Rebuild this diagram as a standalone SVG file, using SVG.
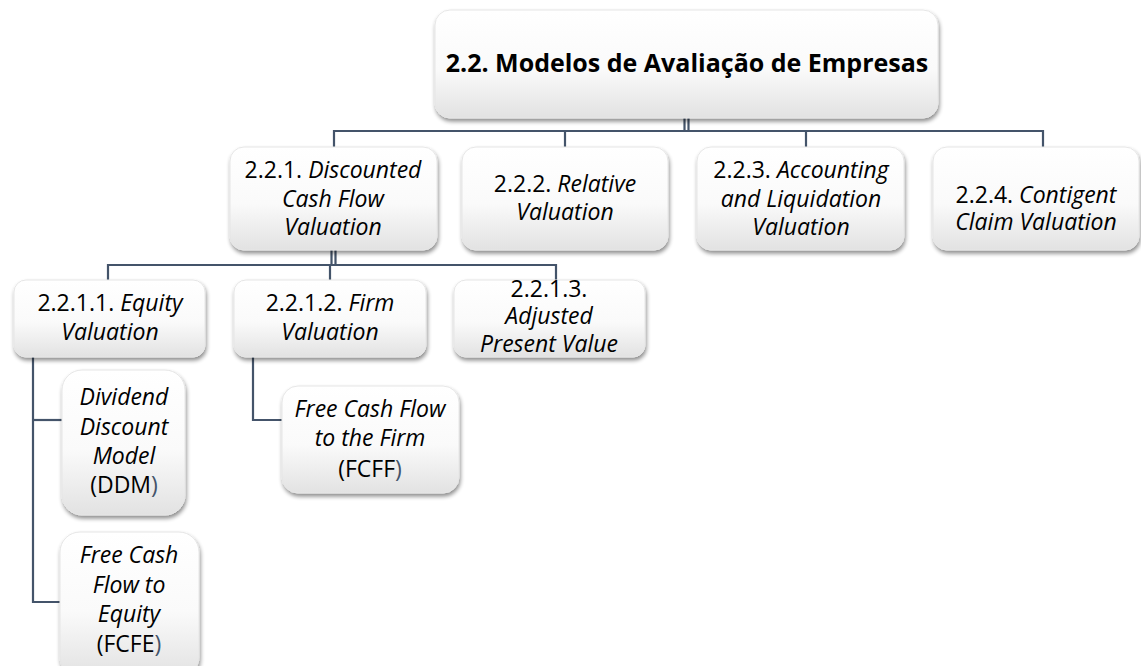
<svg xmlns="http://www.w3.org/2000/svg" width="1141" height="666" viewBox="0 0 1141 666">
  <defs>
    <linearGradient id="boxFill" x1="0" y1="0" x2="0" y2="1">
      <stop offset="0" stop-color="#ffffff"/>
      <stop offset="0.55" stop-color="#fafafa"/>
      <stop offset="1" stop-color="#e2e2e2"/>
    </linearGradient>
    <filter id="shadow" x="-10%" y="-10%" width="125%" height="130%">
      <feGaussianBlur in="SourceAlpha" stdDeviation="2.2"/>
      <feOffset dx="1" dy="3" result="off"/>
      <feComponentTransfer><feFuncA type="linear" slope="0.45"/></feComponentTransfer>
      <feMerge><feMergeNode/><feMergeNode in="SourceGraphic"/></feMerge>
    </filter>
  </defs>
  <style>
    .box { fill: url(#boxFill); stroke: #e6e6e6; stroke-width: 1; filter: url(#shadow); }
    .link { fill: none; stroke: #44546a; stroke-width: 2.2; }
    text { font-family: "Open Sans", "Liberation Sans", sans-serif; font-size: 23px; fill: #000; text-anchor: middle; }
    .title { font-weight: bold; font-size: 25px; }
    .it { font-style: italic; }
    .paren { fill: #44546a; }
  </style>
  <rect width="1141" height="666" fill="#ffffff"/>

  <g id="connectors">
    <!-- root to level 2 -->
    <line class="link" x1="684.5" y1="118" x2="684.5" y2="131" />
    <line class="link" x1="688.5" y1="118" x2="688.5" y2="131" />
    <polyline class="link" points="334,147 334,131 1043,131 1043,147"/>
    <line class="link" x1="565" y1="131" x2="565" y2="147"/>
    <line class="link" x1="806" y1="131" x2="806" y2="147"/>
    <!-- discounted cash flow to level 3 -->
    <line class="link" x1="331.5" y1="250" x2="331.5" y2="265"/>
    <line class="link" x1="335.5" y1="250" x2="335.5" y2="265"/>
    <polyline class="link" points="108,280 108,265 556,265 556,280"/>
    <line class="link" x1="330" y1="265" x2="330" y2="280"/>
    <!-- equity valuation children -->
    <polyline class="link" points="33,357 33,602 60,602"/>
    <line class="link" x1="33" y1="420" x2="62" y2="420"/>
    <!-- firm valuation child -->
    <polyline class="link" points="253,357 253,420 282,420"/>
  </g>

  <g id="root">
    <rect class="box" x="435" y="10" width="503" height="108" rx="15"/>
    <text class="title" x="687" y="72">2.2. Modelos de Avaliação de Empresas</text>
  </g>

  <g id="dcf">
    <rect class="box" x="230" y="147" width="207" height="103" rx="14"/>
    <text x="333" y="178">2.2.1.  <tspan class="it">Discounted</tspan></text>
    <text class="it" x="333" y="207">Cash Flow</text>
    <text class="it" x="333" y="235">Valuation</text>
  </g>

  <g id="relative">
    <rect class="box" x="462" y="147" width="206" height="103" rx="14"/>
    <text x="565" y="192">2.2.2. <tspan class="it">Relative</tspan></text>
    <text class="it" x="565" y="220">Valuation</text>
  </g>

  <g id="accounting">
    <rect class="box" x="697" y="147" width="207" height="103" rx="14"/>
    <text x="801" y="178">2.2.3. <tspan class="it">Accounting</tspan></text>
    <text class="it" x="801" y="207">and Liquidation</text>
    <text class="it" x="801" y="235">Valuation</text>
  </g>

  <g id="contingent">
    <rect class="box" x="933" y="147" width="206" height="103" rx="14"/>
    <text x="1036" y="203">2.2.4. <tspan class="it">Contigent</tspan></text>
    <text class="it" x="1036" y="230">Claim Valuation</text>
  </g>

  <g id="equity">
    <rect class="box" x="14" y="280" width="191" height="77" rx="12"/>
    <text x="110" y="311">2.2.1.1. <tspan class="it">Equity</tspan></text>
    <text class="it" x="110" y="340">Valuation</text>
  </g>

  <g id="firm">
    <rect class="box" x="234" y="280" width="192" height="77" rx="12"/>
    <text x="330" y="311">2.2.1.2.  <tspan class="it">Firm</tspan></text>
    <text class="it" x="330" y="340">Valuation</text>
  </g>

  <g id="apv">
    <rect class="box" x="454" y="280" width="191" height="77" rx="12"/>
    <text x="549" y="297">2.2.1.3.</text>
    <text class="it" x="549" y="324">Adjusted</text>
    <text class="it" x="549" y="352">Present Value</text>
  </g>

  <g id="ddm">
    <rect class="box" x="62" y="370" width="123" height="145" rx="20"/>
    <text class="it" x="124" y="405">Dividend</text>
    <text class="it" x="124" y="435">Discount</text>
    <text class="it" x="124" y="464">Model</text>
    <text x="124" y="493">(DDM<tspan class="paren">)</tspan></text>
  </g>

  <g id="fcfe">
    <rect class="box" x="60" y="532" width="139" height="145" rx="20"/>
    <text class="it" x="129" y="563">Free Cash</text>
    <text class="it" x="129" y="593">Flow to</text>
    <text class="it" x="129" y="622">Equity</text>
    <text x="129" y="652">(FCFE<tspan class="paren">)</tspan></text>
  </g>

  <g id="fcff">
    <rect class="box" x="282" y="386" width="177" height="107" rx="16"/>
    <text class="it" x="370" y="417">Free Cash Flow</text>
    <text class="it" x="370" y="446">to the Firm</text>
    <text x="370" y="477">(FCFF<tspan class="paren">)</tspan></text>
  </g>
</svg>
